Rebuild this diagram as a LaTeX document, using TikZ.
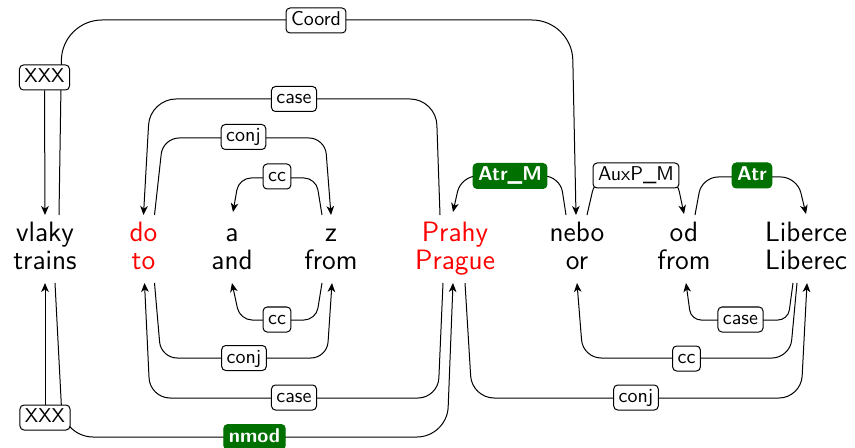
\documentclass[tikz,border=0pt]{standalone}
\usepackage{fontspec}
\usetikzlibrary{calc,arrows.meta}
\definecolor{dkgreen}{RGB}{0,112,0}
\begin{document}
\begin{tikzpicture}[x=0.5pt,y=-0.5pt,
  word/.style={font=\sffamily\fontsize{14}{14}\selectfont, inner sep=0pt, anchor=base},
  redword/.style={word, text=red},
  lab/.style={draw=black, fill=white, rounded corners=2pt, line width=0.5pt,
    font=\sffamily\fontsize{10}{12}\selectfont, text height=7pt, text depth=2pt,
    inner xsep=2.5pt, inner ysep=1.75pt},
  glab/.style={lab, draw=dkgreen, fill=dkgreen, text=white, font=\sffamily\bfseries\fontsize{10}{12}\selectfont},
  edge/.style={draw=black, line width=0.5pt},
  arr/.style={edge, -{Stealth[length=4.5pt,width=3.8pt,inset=1.3pt]}}
]
\useasboundingbox (0,0) rectangle (855,448);

% words
\node[word]    (w1) at (45,242)  {vlaky};
\node[word]    (g1) at (45,270)  {trains};
\node[redword] (w2) at (143.5,242) {do};
\node[redword] (g2) at (143.5,270) {to};
\node[word]    (w3) at (232,242) {a};
\node[word]    (g3) at (232,270) {and};
\node[word]    (w4) at (331,242) {z};
\node[word]    (g4) at (331,270) {from};
\node[redword] (w5) at (455,242) {Prahy};
\node[redword] (g5) at (455,270) {Prague};
\node[word]    (w6) at (577,242) {nebo};
\node[word]    (g6) at (577,270) {or};
\node[word]    (w7) at (684,242) {od};
\node[word]    (g7) at (684,270) {from};
\node[word]    (w8) at (806,242) {Liberce};
\node[word]    (g8) at (806,270) {Liberec};

% top edges
\draw[arr, rounded corners=20pt] ($(w1.base)+(14,-27)$) -- (62,20) -- (572,20) -- ($(w6.base)+(-1,-27)$);
\draw[arr, rounded corners=13pt] ($(w5.base)+(-15,-27)$) -- (436,99) -- (150,99) -- ($(w2.base)+(0,-27)$);
\draw[arr, rounded corners=8pt] ($(w2.base)+(11,-27)$) -- (163,138) -- (325,138) -- ($(w4.base)+(0,-27)$);
\draw[arr, rounded corners=6pt] ($(w4.base)+(-9,-27)$) -- (316,178) -- (239,178) -- ($(w3.base)+(1,-30)$);
\draw[arr, rounded corners=8pt] ($(w6.base)+(-11,-27)$) -- (560,176) -- (461,176) -- ($(w5.base)+(-2,-30)$);
\draw[arr, rounded corners=8pt] ($(w6.base)+(10,-27)$) -- (596,176) -- (676,176) -- ($(w7.base)+(0,-28)$);
\draw[arr, rounded corners=8pt] ($(w7.base)+(11,-27)$) -- (702,177) -- (797,177) -- ($(w8.base)+(0,-28)$);

% bottom edges
\draw[arr, rounded corners=15pt] ($(g1.base)+(10,13)$) -- (63,437) -- (447,437) -- ($(g5.base)+(-2,13)$);
\draw[arr, rounded corners=10pt] ($(g5.base)+(-12,13)$) -- (438,398) -- (150,398) -- ($(g2.base)+(1,13)$);
\draw[arr, rounded corners=8pt] ($(g2.base)+(11,13)$) -- (161,358) -- (327,358) -- ($(g4.base)+(1,13)$);
\draw[arr, rounded corners=6pt] ($(g4.base)+(-9,13)$) -- (316,320) -- (240,320) -- ($(g3.base)+(0,13)$);
\draw[arr, rounded corners=11pt] ($(g5.base)+(10,13)$) -- (472,398) -- (801,398) -- ($(g8.base)+(1,13)$);
\draw[arr, rounded corners=9pt] ($(g8.base)+(-9,13)$) -- (790,358) -- (583,358) -- ($(g6.base)+(0,13)$);
\draw[arr, rounded corners=5pt] ($(g8.base)+(-13,13)$) -- (788,320) -- (691,320) -- ($(g7.base)+(2,13)$);

% labels
\node[lab]  (lx1)   at (44.5,77.5) {XXX};
\node[lab]  (lcoord) at (316,20.5) {Coord};
\node[lab]  (lcase1) at (294,99)   {case};
\node[lab]  (lconj1) at (243.5,137) {conj};
\node[lab]  (lcc1)   at (277,176.5) {cc};
\node[glab] (latrm)  at (510,176)  {Atr\_M};
\node[lab]  (lauxp)  at (636,175.5) {AuxP\_M};
\node[glab] (latr)   at (752,175.5) {Atr};

\node[lab]  (lx2)    at (45,417.5) {XXX};
\node[glab] (lnmod)  at (254.5,437) {nmod};
\node[lab]  (lcase2) at (294,397.5) {case};
\node[lab]  (lconj2) at (244,358)  {conj};
\node[lab]  (lcc2)   at (277,319.5) {cc};
\node[lab]  (lconj3) at (636,397.5) {conj};
\node[lab]  (lcc3)   at (686.5,358.5) {cc};
\node[lab]  (lcase3) at (740.5,319.5) {case};

% root edges from XXX labels
\draw[arr] (lx1.south) -- ($(w1.base)+(0,-27)$);
\draw[arr] (lx2.north) -- ($(g1.base)+(0,13)$);
\end{tikzpicture}
\end{document}
